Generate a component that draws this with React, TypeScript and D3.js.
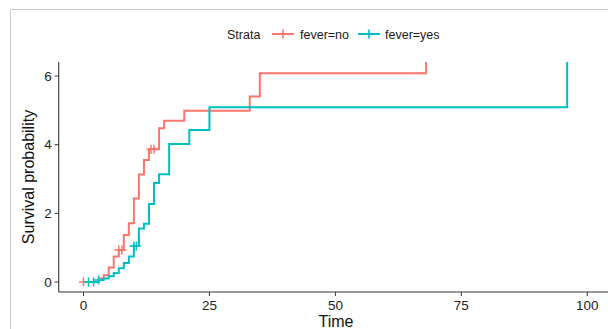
import React from "react";
import * as d3 from "d3";

const strata = ["fever=no", "fever=yes"];
const colors = ["#F8766D", "#00BFC4"];

const noTimes = [0, 3, 4, 5, 6, 7, 8, 9, 10, 11, 12, 13, 15, 16, 20, 33, 35, 68];
const noValues = [0, 0.1, 0.2, 0.42, 0.74, 0.93, 1.37, 1.71, 2.43, 3.13, 3.55, 3.87, 4.48, 4.7, 4.99, 5.4, 6.08, Infinity];
const noCensor = [0, 7.0, 7.6, 13.4, 14.0];

const yesTimes = [0, 3, 4, 5, 6, 7, 8, 9, 10, 11, 12, 13, 14, 15, 17, 21, 25, 96];
const yesValues = [0, 0.06, 0.1, 0.17, 0.26, 0.4, 0.55, 0.74, 1.05, 1.56, 1.7, 2.27, 2.88, 3.14, 4.02, 4.43, 5.09, Infinity];
const yesCensor = [1, 2, 3, 10.0, 10.5];

const xTicks = [0, 25, 50, 75, 100];
const yTicks = [0, 2, 4, 6];

const W = 608, H = 329;
const panelLeft = 58.7, panelTop = 62, panelBottom = 292, panelRight = 608;

export default function App() {
  const x = d3.scaleLinear().domain([0, 100]).range([83.5, 587.3]);
  const y = d3.scaleLinear().domain([0, 6]).range([282, 76]);
  const yy = (v: number) => (v === Infinity ? panelTop : y(v));

  const series = [
    { t: noTimes, v: noValues, c: noCensor },
    { t: yesTimes, v: yesValues, c: yesCensor },
  ];

  const line = d3
    .line<[number, number]>()
    .x((d) => x(d[0]))
    .y((d) => yy(d[1]))
    .curve(d3.curveStepAfter);

  const valueAt = (t: number[], v: number[], time: number) => {
    let val = v[0];
    for (let i = 0; i < t.length; i++) if (t[i] <= time) val = v[i];
    return val;
  };

  const font = "'Liberation Sans', Arial, sans-serif";
  const axisColor = "#333333";

  return (
    <svg
      width={W}
      height={H}
      style={{ position: "absolute", left: 0, top: 0, display: "block", background: "#fff" }}
      fontFamily={font}
    >
      <defs>
        <clipPath id="panel">
          <rect x={panelLeft} y={panelTop} width={panelRight - panelLeft} height={panelBottom - panelTop} />
        </clipPath>
      </defs>
      {/* outer frame */}
      <line x1={10.5} y1={9.5} x2={W} y2={9.5} stroke="#c8c8c8" strokeWidth={1} />
      <line x1={10.5} y1={9.5} x2={10.5} y2={H} stroke="#c8c8c8" strokeWidth={1} />

      {/* legend */}
      <g fontSize={12.5} fill="#1a1a1a">
        <text x={227} y={38.5}>Strata</text>
        {strata.map((s, i) => {
          const kx = i === 0 ? 272 : 358;
          const tx = i === 0 ? 300 : 385;
          return (
            <g key={s}>
              <line x1={kx} y1={34} x2={kx + 22} y2={34} stroke={colors[i]} strokeWidth={2} />
              <line x1={kx + 11} y1={29.5} x2={kx + 11} y2={38.5} stroke={colors[i]} strokeWidth={1.6} />
              <text x={tx} y={38.5}>{s}</text>
            </g>
          );
        })}
      </g>

      {/* curves */}
      <g clipPath="url(#panel)">
        {series.map((s, i) => (
          <path
            key={i}
            d={line(s.t.map((t, j) => [t, s.v[j]] as [number, number])) || ""}
            fill="none"
            stroke={colors[i]}
            strokeWidth={2}
          />
        ))}
        {series.map((s, i) =>
          s.c.map((ct, j) => {
            const cx = x(ct);
            const cy = yy(valueAt(s.t, s.v, ct));
            return (
              <g key={`${i}-${j}`} stroke={colors[i]} strokeWidth={1.5}>
                <line x1={cx - 4.5} y1={cy} x2={cx + 4.5} y2={cy} />
                <line x1={cx} y1={cy - 4.5} x2={cx} y2={cy + 4.5} />
              </g>
            );
          })
        )}
      </g>

      {/* axes */}
      <line x1={panelLeft} y1={panelTop} x2={panelLeft} y2={panelBottom} stroke={axisColor} strokeWidth={1.1} />
      <line x1={panelLeft} y1={panelBottom} x2={panelRight} y2={panelBottom} stroke={axisColor} strokeWidth={1.1} />
      {yTicks.map((t) => (
        <g key={t}>
          <line x1={panelLeft - 4} y1={y(t)} x2={panelLeft} y2={y(t)} stroke={axisColor} strokeWidth={1} />
          <text x={panelLeft - 7} y={y(t) + 4.7} textAnchor="end" fontSize={13.5} fill="#222">
            {t}
          </text>
        </g>
      ))}
      {xTicks.map((t) => (
        <g key={t}>
          <line x1={x(t)} y1={panelBottom} x2={x(t)} y2={panelBottom + 4} stroke={axisColor} strokeWidth={1} />
          <text x={x(t)} y={310} textAnchor="middle" fontSize={13.5} fill="#222">
            {t}
          </text>
        </g>
      ))}
      <text x={336} y={327} textAnchor="middle" fontSize={16} fill="#111">
        Time
      </text>
      <text
        transform={`translate(34,177) rotate(-90)`}
        textAnchor="middle"
        fontSize={16}
        fill="#111"
      >
        Survival probability
      </text>
    </svg>
  );
}
